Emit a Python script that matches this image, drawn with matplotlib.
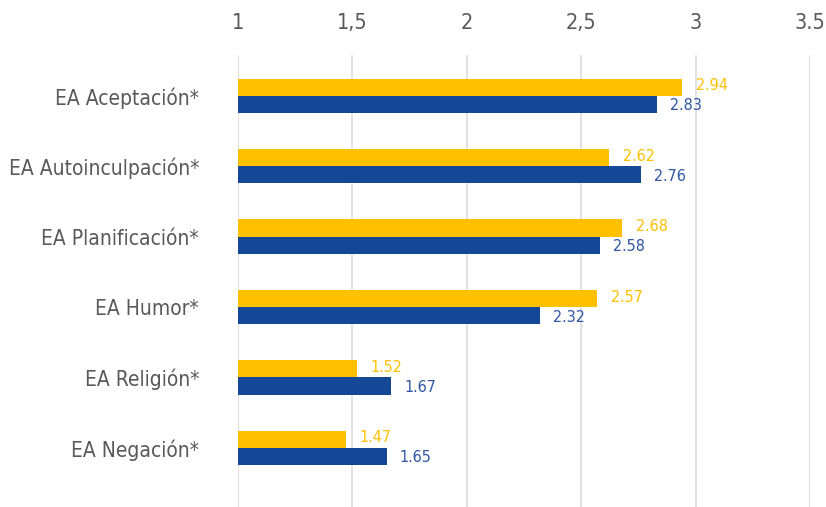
import matplotlib
matplotlib.use("Agg")
import matplotlib.pyplot as plt
import numpy as np

plt.rcParams['font.family'] = ['DejaVu Sans']
plt.rcParams['font.stretch'] = 'condensed'

# Data
categories = ["EA Aceptación*", "EA Autoinculpación*", "EA Planificación*",
              "EA Humor*", "EA Religión*", "EA Negación*"]
yellow_vals = [2.94, 2.62, 2.68, 2.57, 1.52, 1.47]
blue_vals = [2.83, 2.76, 2.58, 2.32, 1.67, 1.65]
tick_vals = [1, 1.5, 2, 2.5, 3, 3.5]
tick_labels = ["1", "1,5", "2", "2,5", "3", "3.5"]

yellow = "#FFC000"
blue = "#144796"
yellow_txt = "#FFC000"
blue_txt = "#2F55A4"
gray_txt = "#595959"

fig = plt.figure(figsize=(8.26, 5.07), dpi=100)
ax = fig.add_axes([238 / 826, 0, (810 - 238) / 826, 1 - 55 / 507])

y = np.arange(len(categories))
h = 0.245
ax.barh(y - h / 2, [v - 1 for v in yellow_vals], left=1, height=h, color=yellow, zorder=3)
ax.barh(y + h / 2, [v - 1 for v in blue_vals], left=1, height=h, color=blue, zorder=3)

for i, (a, b) in enumerate(zip(yellow_vals, blue_vals)):
    ax.annotate(f"{a:.2f}", (a, i - h / 2), xytext=(10, 1), textcoords="offset points",
                va="center", ha="left", color=yellow_txt, fontsize=11.5)
    ax.annotate(f"{b:.2f}", (b, i + h / 2), xytext=(9.5, -1), textcoords="offset points",
                va="center", ha="left", color=blue_txt, fontsize=11.5)

ax.set_xlim(1, 3.5)
ax.set_ylim(5.84, -0.58)
ax.set_xticks(tick_vals)
ax.set_xticklabels(tick_labels)
ax.xaxis.tick_top()
ax.set_yticks(y)
ax.set_yticklabels(categories)
ax.tick_params(axis="x", length=0, pad=16, labelsize=15.5, labelcolor=gray_txt)
ax.tick_params(axis="y", length=0, pad=28, labelsize=15, labelcolor=gray_txt)
ax.grid(axis="x", color="#DDDDDD", linewidth=1.2, zorder=0)
for s in ax.spines.values():
    s.set_visible(False)

fig.savefig("out.png", dpi=100)
